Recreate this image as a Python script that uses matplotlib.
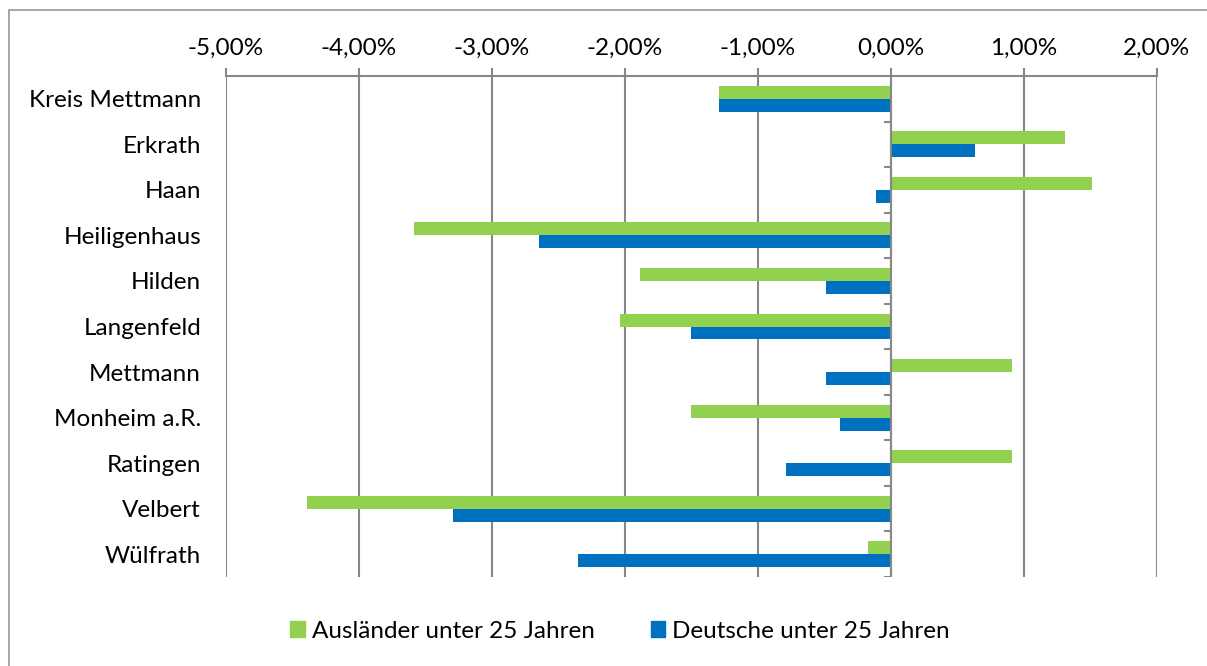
import numpy as np
import matplotlib.pyplot as plt
from matplotlib.patches import Rectangle, Patch
from matplotlib.ticker import FuncFormatter

orte = ["Kreis Mettmann", "Erkrath", "Haan", "Heiligenhaus", "Hilden", "Langenfeld",
        "Mettmann", "Monheim a.R.", "Ratingen", "Velbert", "Wülfrath"]
auslaender = [-1.29, 1.31, 1.51, -3.59, -1.89, -2.04, 0.91, -1.50, 0.91, -4.39, -0.17]
deutsche = [-1.29, 0.63, -0.11, -2.65, -0.49, -1.50, -0.49, -0.38, -0.79, -3.29, -2.35]
x_ticks = [-5, -4, -3, -2, -1, 0, 1, 2]

gruen = "#92D050"
blau = "#0070C0"
grau = "#888888"
fs = 17.5

plt.rcParams['font.family'] = ['Lato', 'DejaVu Sans']

fig = plt.figure(figsize=(12.07, 6.66), dpi=100)
fig.patches.append(Rectangle((9/1207, -0.1), 1.2, 1.1-10/666, transform=fig.transFigure,
                             fill=False, edgecolor="#A0A0A0", linewidth=1.3))
ax = fig.add_axes([226/1207, 1-577/666, 931/1207, 501/666])

y = np.arange(len(orte))
h = 0.285
ax.barh(y - h/2, auslaender, height=h, color=gruen, label="Ausländer unter 25 Jahren", zorder=3)
ax.barh(y + h/2, deutsche, height=h, color=blau, label="Deutsche unter 25 Jahren", zorder=3)

ax.set_xlim(-5, 2)
ax.set_ylim(len(orte) - 0.5, -0.5)
ax.set_xticks(x_ticks)
ax.xaxis.set_major_formatter(FuncFormatter(lambda v, p: ("%.2f%%" % v).replace(".", ",")))
ax.xaxis.tick_top()
ax.tick_params(axis='x', length=6, width=1.5, color=grau, labelsize=fs, pad=6)
ax.grid(axis='x', color=grau, linewidth=1.5, zorder=1)

ax.set_yticks(y)
ax.set_yticklabels(orte)
ax.tick_params(axis='y', length=0, labelsize=fs, pad=18)

for s in ["left", "right", "bottom"]:
    ax.spines[s].set_visible(False)
ax.spines["top"].set_color(grau)
ax.spines["top"].set_linewidth(1.5)

# y-Achse bei 0 mit Teilstrichen zwischen den Kategorien
ax.axvline(0, color=grau, linewidth=1.5, zorder=4)
for b in np.arange(-0.5, len(orte), 1.0):
    ax.plot([-0.05, 0], [b, b], color=grau, linewidth=1.5, zorder=4, solid_capstyle='butt')

handles = [Patch(color=gruen), Patch(color=blau)]
fig.legend(handles, ["Ausländer unter 25 Jahren", "Deutsche unter 25 Jahren"],
           loc="center", bbox_to_anchor=(620/1207, 1-631/666), ncol=2, frameon=False,
           fontsize=fs, handlelength=0.6, handleheight=0.6, handletextpad=0.3,
           columnspacing=2.3)

fig.savefig("out.png", dpi=100)
